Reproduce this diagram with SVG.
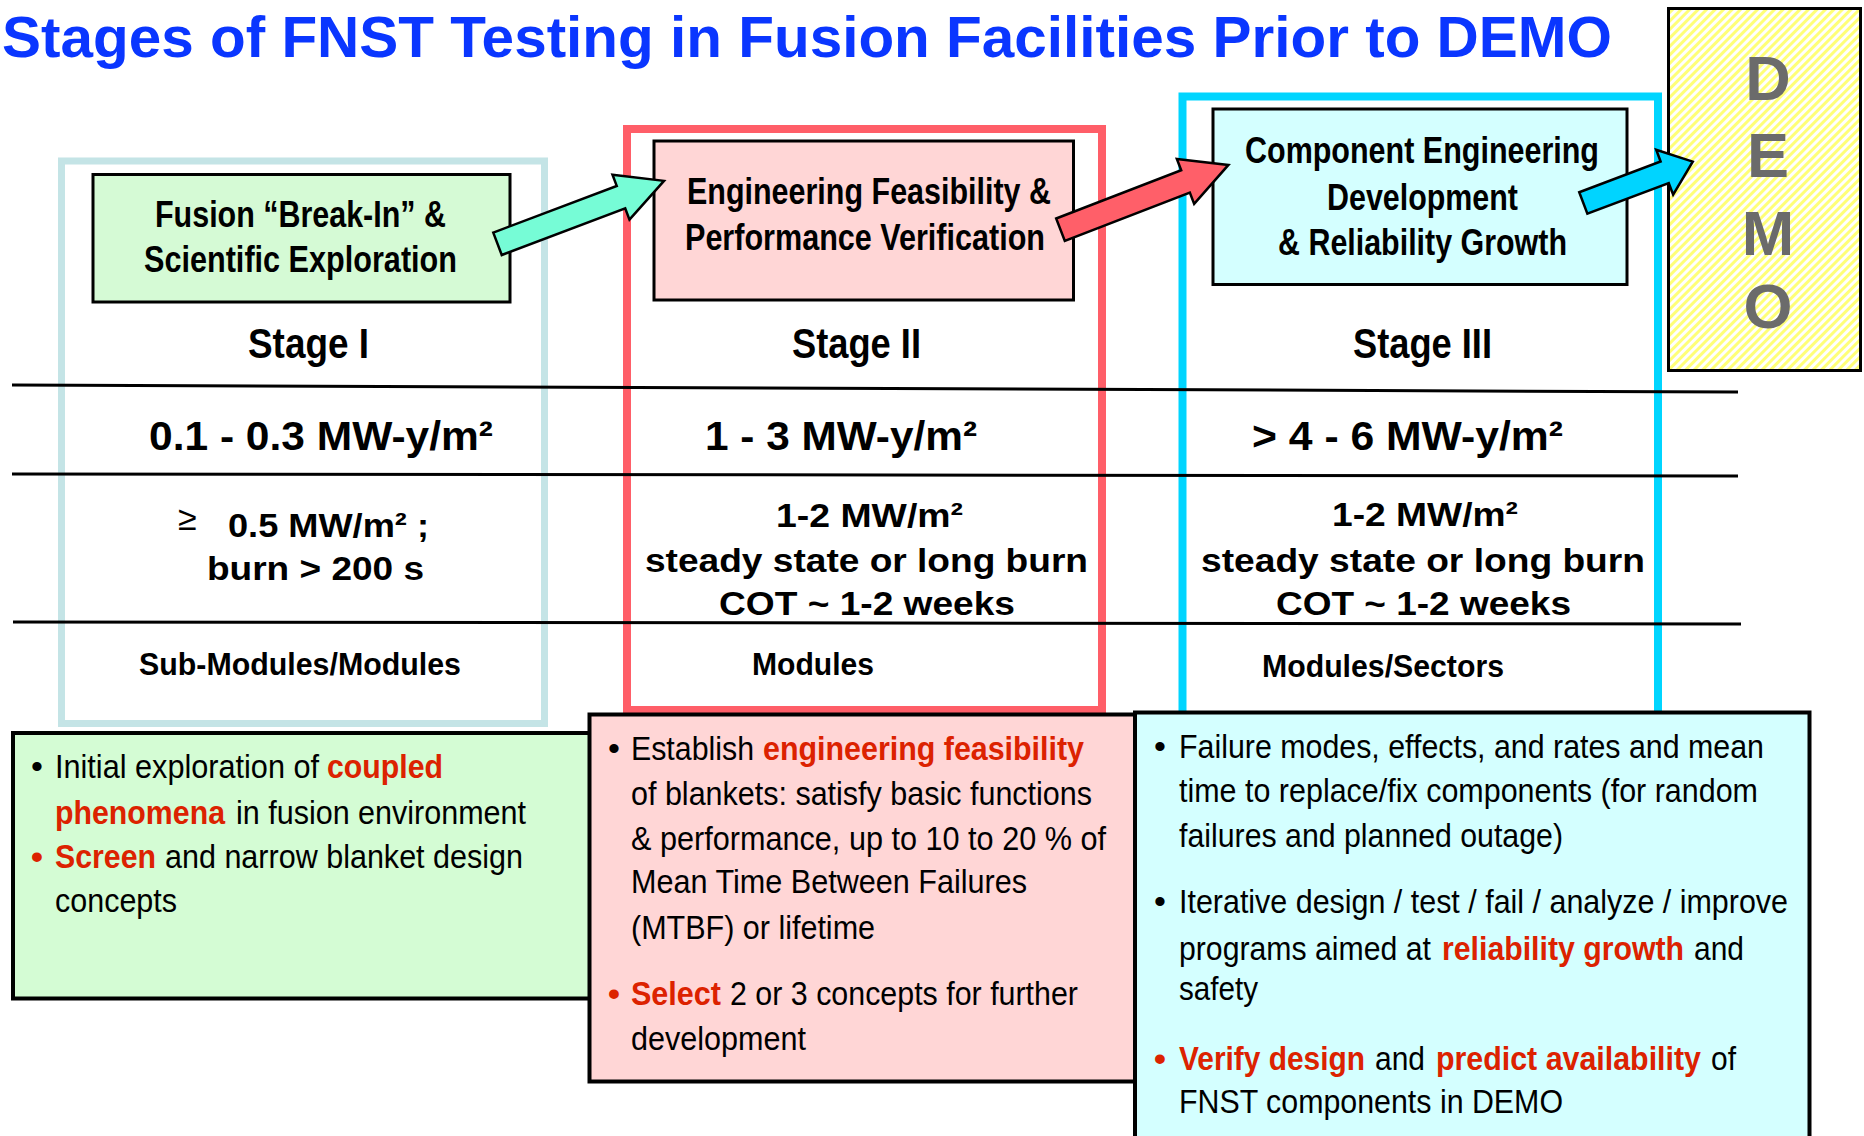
<svg xmlns="http://www.w3.org/2000/svg" width="1864" height="1136" viewBox="0 0 1864 1136">
<style>
.t{font-family:"Liberation Sans",Arial,sans-serif;font-weight:bold;font-size:58px;fill:#0a36ff}
.n{font-family:"Liberation Sans Narrow","Liberation Sans",Arial,sans-serif;font-weight:bold;fill:#000}
.hd{font-size:37px}
.st{font-size:42px}
.r1{font-size:40px}
.r2{font-size:34px}
.r3{font-size:32px}
.bt{font-family:"Liberation Sans Narrow","Liberation Sans",Arial,sans-serif;font-size:34px;fill:#000}
.red{fill:#dc2200;font-weight:bold}
.box{stroke:#000;stroke-width:3}
.bbox{stroke:#000;stroke-width:4}
.frame{fill:none}
.ln{stroke:#000;stroke-width:3}
.arr{stroke:#000;stroke-width:2.5;stroke-linejoin:miter}
.demo{font-family:"Liberation Sans",Arial,sans-serif;font-weight:bold;font-size:63px;fill:#6b6b6b;text-anchor:middle}
</style>
<defs>
<pattern id="hatch" patternUnits="userSpaceOnUse" width="6" height="6" patternTransform="rotate(45)">
<rect width="6" height="6" fill="#ffffff"/>
<rect width="3" height="6" fill="#ffff78"/>
</pattern>
</defs>
<rect width="1864" height="1136" fill="#ffffff"/>

<text class="t" x="2" y="57" textLength="1610" lengthAdjust="spacingAndGlyphs">Stages of FNST Testing in Fusion Facilities Prior to DEMO</text>

<g id="frames">
<rect class="frame" x="61.5" y="161" width="483" height="562.5" stroke="#c4e4e6" stroke-width="7"/>
<rect class="frame" x="627" y="129" width="475" height="581" stroke="#ff5e68" stroke-width="8"/>
<rect class="frame" x="1182.5" y="96.5" width="475.5" height="620" stroke="#00d5ff" stroke-width="8"/>
</g>

<g id="table-lines">
<line class="ln" x1="12" y1="385" x2="1738" y2="392"/>
<line class="ln" x1="12" y1="474" x2="1738" y2="476"/>
<line class="ln" x1="13" y1="622" x2="1741" y2="624"/>
</g>

<g id="demo">
<rect x="1668.5" y="8.5" width="192" height="362" fill="url(#hatch)" stroke="#000" stroke-width="3"/>
<text class="demo" x="1768" y="100">D</text>
<text class="demo" x="1768" y="177">E</text>
<text class="demo" x="1768" y="255">M</text>
<text class="demo" x="1768" y="328">O</text>
</g>

<g id="stage1">
<rect class="box" x="93" y="174.5" width="417" height="127.5" fill="#d5fad5"/>
<text class="n hd" x="155" y="227" textLength="291" lengthAdjust="spacingAndGlyphs">Fusion “Break-In” &amp;</text>
<text class="n hd" x="144" y="272" textLength="313" lengthAdjust="spacingAndGlyphs">Scientific Exploration</text>
<text class="n st" x="248" y="358" textLength="121" lengthAdjust="spacingAndGlyphs">Stage I</text>
<text class="n r1" x="149" y="450" textLength="344" lengthAdjust="spacingAndGlyphs">0.1 - 0.3 MW-y/m²</text>
<text class="bt" x="178" y="530" font-size="24">≥</text>
<text class="n r2" x="228" y="537" textLength="201" lengthAdjust="spacingAndGlyphs">0.5 MW/m² ;</text>
<text class="n r2" x="207" y="580" textLength="217" lengthAdjust="spacingAndGlyphs">burn &gt; 200 s</text>
<text class="n r3" x="139" y="675" textLength="322" lengthAdjust="spacingAndGlyphs">Sub-Modules/Modules</text>
</g>

<g id="stage2">
<rect class="box" x="654" y="141" width="419.5" height="159" fill="#ffd6d6"/>
<text class="n hd" x="687" y="204" textLength="364" lengthAdjust="spacingAndGlyphs">Engineering Feasibility &amp;</text>
<text class="n hd" x="685" y="250" textLength="360" lengthAdjust="spacingAndGlyphs">Performance Verification</text>
<text class="n st" x="792" y="358" textLength="129" lengthAdjust="spacingAndGlyphs">Stage II</text>
<text class="n r1" x="705" y="450" textLength="272" lengthAdjust="spacingAndGlyphs">1 - 3 MW-y/m²</text>
<text class="n r2" x="776" y="527" textLength="187" lengthAdjust="spacingAndGlyphs">1-2 MW/m²</text>
<text class="n r2" x="645" y="572" textLength="443" lengthAdjust="spacingAndGlyphs">steady state or long burn</text>
<text class="n r2" x="719" y="615" textLength="296" lengthAdjust="spacingAndGlyphs">COT ~ 1-2 weeks</text>
<text class="n r3" x="752" y="675" textLength="122" lengthAdjust="spacingAndGlyphs">Modules</text>
</g>

<g id="stage3">
<rect class="box" x="1213" y="109" width="414" height="175.5" fill="#d4ffff"/>
<text class="n hd" x="1245" y="163" textLength="354" lengthAdjust="spacingAndGlyphs">Component Engineering</text>
<text class="n hd" x="1327" y="210" textLength="191" lengthAdjust="spacingAndGlyphs">Development</text>
<text class="n hd" x="1278" y="255" textLength="289" lengthAdjust="spacingAndGlyphs">&amp; Reliability Growth</text>
<text class="n st" x="1353" y="358" textLength="139" lengthAdjust="spacingAndGlyphs">Stage III</text>
<text class="n r1" x="1252" y="450" textLength="311" lengthAdjust="spacingAndGlyphs">&gt; 4 - 6 MW-y/m²</text>
<text class="n r2" x="1332" y="526" textLength="186" lengthAdjust="spacingAndGlyphs">1-2 MW/m²</text>
<text class="n r2" x="1201" y="572" textLength="444" lengthAdjust="spacingAndGlyphs">steady state or long burn</text>
<text class="n r2" x="1276" y="615" textLength="295" lengthAdjust="spacingAndGlyphs">COT ~ 1-2 weeks</text>
<text class="n r3" x="1262" y="677" textLength="242" lengthAdjust="spacingAndGlyphs">Modules/Sectors</text>
</g>

<g id="connectors">
<polygon class="arr" fill="#76fcd6" transform="translate(497.5,243.8) rotate(-20.7)" points="0,-12 132,-12 132,-24 178,0 132,24 132,12 0,12"/>
<polygon class="arr" fill="#ff5f69" transform="translate(1060.5,229.7) rotate(-21.1)" points="0,-12 134,-12 134,-24 180,0 134,24 134,12 0,12"/>
<polygon class="arr" fill="#00d4ff" transform="translate(1583.3,203) rotate(-20.7)" points="0,-11.5 87,-11.5 87,-24 117,0 87,24 87,11.5 0,11.5"/>
</g>

<g id="notes1">
<rect class="bbox" x="13" y="733" width="584" height="265.5" fill="#d4fcd4"/>
<text class="bt" x="37" y="778" text-anchor="middle">•</text>
<text class="bt" transform="translate(55,778) scale(0.901,1)" textLength="293" lengthAdjust="spacingAndGlyphs">Initial exploration of</text>
<text class="bt red" transform="translate(327,778) scale(0.89,1)" textLength="130.3" lengthAdjust="spacingAndGlyphs">coupled</text>
<text class="bt red" x="55" y="824" textLength="170" lengthAdjust="spacingAndGlyphs">phenomena</text>
<text class="bt" x="236" y="824" textLength="290" lengthAdjust="spacingAndGlyphs">in fusion environment</text>
<text class="bt red" x="37" y="868" text-anchor="middle">•</text>
<text class="bt red" x="55" y="868" textLength="101" lengthAdjust="spacingAndGlyphs">Screen</text>
<text class="bt" x="165" y="868" textLength="358" lengthAdjust="spacingAndGlyphs">and narrow blanket design</text>
<text class="bt" x="55" y="912" textLength="122" lengthAdjust="spacingAndGlyphs">concepts</text>
</g>

<g id="notes2">
<rect class="bbox" x="589.5" y="714.5" width="552" height="367" fill="#ffd6d6"/>
<text class="bt" x="614" y="760" text-anchor="middle">•</text>
<text class="bt" x="631" y="760" textLength="123" lengthAdjust="spacingAndGlyphs">Establish</text>
<text class="bt red" x="763" y="760" textLength="321" lengthAdjust="spacingAndGlyphs">engineering feasibility</text>
<text class="bt" x="631" y="805" textLength="461" lengthAdjust="spacingAndGlyphs">of blankets: satisfy basic functions</text>
<text class="bt" x="631" y="850" textLength="475" lengthAdjust="spacingAndGlyphs">&amp; performance, up to 10 to 20 % of</text>
<text class="bt" x="631" y="893" textLength="396" lengthAdjust="spacingAndGlyphs">Mean Time Between Failures</text>
<text class="bt" x="631" y="939" textLength="244" lengthAdjust="spacingAndGlyphs">(MTBF) or lifetime</text>
<text class="bt red" x="614" y="1005" text-anchor="middle">•</text>
<text class="bt red" x="631" y="1005" textLength="90" lengthAdjust="spacingAndGlyphs">Select</text>
<text class="bt" x="730" y="1005" textLength="348" lengthAdjust="spacingAndGlyphs">2 or 3 concepts for further</text>
<text class="bt" x="631" y="1050" textLength="175" lengthAdjust="spacingAndGlyphs">development</text>
</g>

<g id="notes3">
<rect class="bbox" x="1135" y="712.5" width="674.5" height="440" fill="#d4ffff"/>
<text class="bt" x="1160" y="758" text-anchor="middle">•</text>
<text class="bt" x="1179" y="758" textLength="585" lengthAdjust="spacingAndGlyphs">Failure modes, effects, and rates and mean</text>
<text class="bt" x="1179" y="802" textLength="579" lengthAdjust="spacingAndGlyphs">time to replace/fix components (for random</text>
<text class="bt" x="1179" y="847" textLength="384" lengthAdjust="spacingAndGlyphs">failures and planned outage)</text>
<text class="bt" x="1160" y="913" text-anchor="middle">•</text>
<text class="bt" x="1179" y="913" textLength="609" lengthAdjust="spacingAndGlyphs">Iterative design / test / fail / analyze / improve</text>
<text class="bt" transform="translate(1179,960) scale(0.889,1)" textLength="283.4" lengthAdjust="spacingAndGlyphs">programs aimed at</text>
<text class="bt red" transform="translate(1442,960) scale(0.89,1)" textLength="272" lengthAdjust="spacingAndGlyphs">reliability growth</text>
<text class="bt" transform="translate(1694,960) scale(0.882,1)" textLength="56.7" lengthAdjust="spacingAndGlyphs">and</text>
<text class="bt" x="1179" y="1000" textLength="79" lengthAdjust="spacingAndGlyphs">safety</text>
<text class="bt red" x="1160" y="1070" text-anchor="middle">•</text>
<text class="bt red" transform="translate(1179,1070) scale(0.871,1)" textLength="213.5" lengthAdjust="spacingAndGlyphs">Verify design</text>
<text class="bt" transform="translate(1375,1070) scale(0.882,1)" textLength="56.7" lengthAdjust="spacingAndGlyphs">and</text>
<text class="bt red" transform="translate(1436,1070) scale(0.893,1)" textLength="296.7" lengthAdjust="spacingAndGlyphs">predict availability</text>
<text class="bt" transform="translate(1711,1070) scale(0.88,1)" textLength="28.4" lengthAdjust="spacingAndGlyphs">of</text>
<text class="bt" x="1179" y="1113" textLength="384" lengthAdjust="spacingAndGlyphs">FNST components in DEMO</text>
</g>
</svg>
